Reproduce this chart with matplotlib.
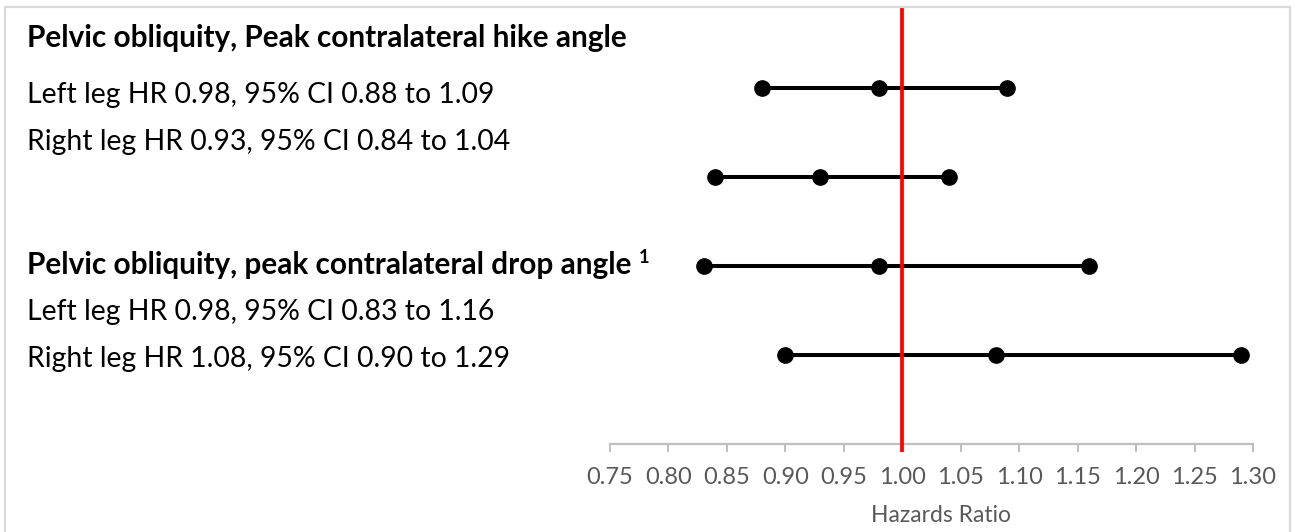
import matplotlib
matplotlib.use("Agg")
import matplotlib.pyplot as plt
from matplotlib.patches import Rectangle

# ---- data ----
hr = [0.98, 0.93, 0.98, 1.08]
ci_low = [0.88, 0.84, 0.83, 0.90]
ci_high = [1.09, 1.04, 1.16, 1.29]
row_y = [4, 3, 2, 1]
ref_value = 1.00
xticks = [0.75, 0.80, 0.85, 0.90, 0.95, 1.00, 1.05, 1.10, 1.15, 1.20, 1.25, 1.30]
xtick_labels = ["%.2f" % v for v in xticks]
x_label = "Hazards Ratio"
titles = ["Pelvic obliquity, Peak contralateral hike angle",
          "Pelvic obliquity, peak contralateral drop angle"]
title_sup = ["", "1"]
lines = ["Left leg HR 0.98, 95% CI 0.88 to 1.09",
         "Right leg HR 0.93, 95% CI 0.84 to 1.04",
         "Left leg HR 0.98, 95% CI 0.83 to 1.16",
         "Right leg HR 1.08, 95% CI 0.90 to 1.29"]

W, H = 1296, 532
plt.rcParams['font.family'] = ['Lato', 'DejaVu Sans']
fig = plt.figure(figsize=(W / 100, H / 100), dpi=100)
fig.patch.set_facecolor('white')

ax_left, ax_right, ax_top, ax_bot = 610, 1253, 8, 444
ax = fig.add_axes([ax_left / W, 1 - ax_bot / H, (ax_right - ax_left) / W, (ax_bot - ax_top) / H])
ax.set_xlim(0.75, 1.30)
ax.set_ylim(0, 4.9)
for s in ['left', 'right', 'top']:
    ax.spines[s].set_visible(False)
ax.spines['bottom'].set_color('#bfbfbf')
ax.spines['bottom'].set_linewidth(1.6)
ax.set_yticks([])
ax.set_xticks(xticks)
ax.set_xticklabels(xtick_labels)
ax.tick_params(axis='x', colors='#bfbfbf', labelcolor='#595959', length=5.8, width=1.4,
               direction='out', pad=10.5, labelsize=17)
ax.patch.set_alpha(0)

# CI lines and points
for y, lo, m, hi in zip(row_y, ci_low, hr, ci_high):
    ax.plot([lo, hi], [y, y], color='black', lw=2.9, solid_capstyle='butt', zorder=3)
    ax.plot([lo, m, hi], [y, y, y], linestyle='none', marker='o', ms=11,
            color='black', zorder=4)

# reference line
ax.plot([ref_value, ref_value], [-0.09, 4.9], color='#ff0000', lw=2.7, clip_on=False,
        solid_capstyle='butt', zorder=5)

xl = fig.text(941 / W, 1 - 515 / H, x_label, color='#595959', fontsize=15.5,
              ha='center', va='center')

# left text
tx = 27 / W
title_base = [47, 274]
line_base = [103, 150, 320, 367]
t_objs = [fig.text(tx, 1 - b / H, t, fontsize=20, fontweight='bold', color='black', va='baseline')
          for t, b in zip(titles, title_base)]
l_objs = [fig.text(tx, 1 - b / H, t, fontsize=20, color='black', va='baseline')
          for t, b in zip(lines, line_base)]

# border
fig.patches.append(Rectangle((5 / W, -0.05), (1290 - 5) / W, 1.05 - 7 / H,
                             transform=fig.transFigure, fill=False,
                             edgecolor='#d9d9d9', lw=1.6, clip_on=False))

# fit font sizes to the reference widths
def fit(objs, target):
    for _ in range(2):
        fig.canvas.draw()
        r = fig.canvas.get_renderer()
        w = objs[0].get_window_extent(r).width
        for o in objs:
            o.set_fontsize(o.get_fontsize() * target / w)

fit(t_objs, 602)
fit(l_objs, 466)
fit([xl], 140)

# superscripts after titles
fig.canvas.draw()
r = fig.canvas.get_renderer()
for t, sup, b in zip(t_objs, title_sup, title_base):
    if sup:
        bb = t.get_window_extent(r)
        fig.text((bb.x1 + 7) / W, 1 - (b - 11) / H, sup, fontsize=t.get_fontsize() * 0.62,
                 fontweight='bold', color='black', va='baseline')

fig.savefig('out.png', dpi=100)
